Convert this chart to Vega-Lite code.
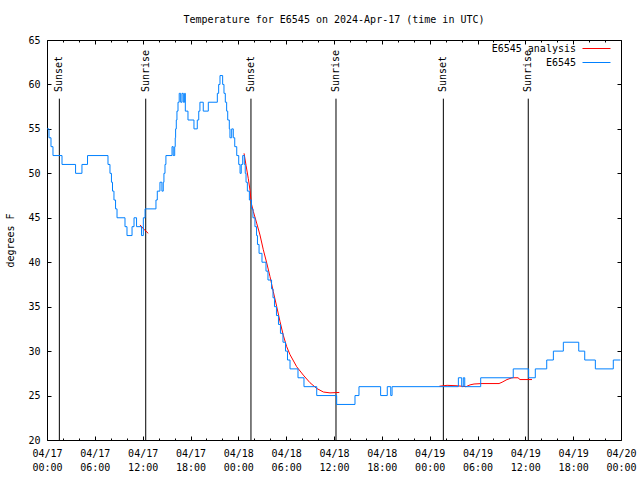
{
  "$schema": "https://vega.github.io/schema/vega-lite/v6.json",
  "width": 574,
  "height": 400,
  "autosize": {"type": "none"},
  "padding": {"left": 47, "top": 40, "right": 19, "bottom": 40},
  "background": "white",
  "title": {"text": "Temperature for E6545 on 2024-Apr-17 (time in UTC)", "font": "DejaVu Sans Mono", "fontSize": 10, "fontWeight": "normal", "anchor": "middle", "color": "black", "offset": 10},
  "config": {
    "view": {"stroke": null},
    "axis": {"labelFont": "DejaVu Sans Mono", "labelFontSize": 10, "labelColor": "black", "titleFont": "DejaVu Sans Mono", "titleFontSize": 10, "titleFontWeight": "normal", "titleColor": "black", "domainColor": "black", "tickColor": "black", "grid": false, "domainWidth": 1, "tickWidth": 1},
    "legend": {"labelFont": "DejaVu Sans Mono", "labelFontSize": 10, "labelColor": "black"}
  },
  "datasets": {
    "obs": [
      {"t": "2024-04-17T00:00:00Z", "temp": 55}, {"t": "2024-04-17T00:15:00Z", "temp": 54}, {"t": "2024-04-17T00:30:00Z", "temp": 53}, {"t": "2024-04-17T00:45:00Z", "temp": 52},
      {"t": "2024-04-17T01:53:00Z", "temp": 51}, {"t": "2024-04-17T03:35:00Z", "temp": 50}, {"t": "2024-04-17T04:23:00Z", "temp": 51}, {"t": "2024-04-17T05:05:00Z", "temp": 52},
      {"t": "2024-04-17T07:39:00Z", "temp": 51}, {"t": "2024-04-17T07:54:00Z", "temp": 50}, {"t": "2024-04-17T08:05:00Z", "temp": 49}, {"t": "2024-04-17T08:13:00Z", "temp": 48},
      {"t": "2024-04-17T08:24:00Z", "temp": 47}, {"t": "2024-04-17T08:36:00Z", "temp": 46}, {"t": "2024-04-17T08:47:00Z", "temp": 45}, {"t": "2024-04-17T09:47:00Z", "temp": 44},
      {"t": "2024-04-17T10:02:00Z", "temp": 43}, {"t": "2024-04-17T10:40:00Z", "temp": 44}, {"t": "2024-04-17T10:55:00Z", "temp": 45}, {"t": "2024-04-17T11:14:00Z", "temp": 44},
      {"t": "2024-04-17T11:51:00Z", "temp": 43}, {"t": "2024-04-17T12:05:00Z", "temp": 45}, {"t": "2024-04-17T12:18:00Z", "temp": 46}, {"t": "2024-04-17T13:40:00Z", "temp": 47},
      {"t": "2024-04-17T13:50:00Z", "temp": 48}, {"t": "2024-04-17T14:10:00Z", "temp": 49}, {"t": "2024-04-17T14:25:00Z", "temp": 48}, {"t": "2024-04-17T14:35:00Z", "temp": 49},
      {"t": "2024-04-17T14:40:00Z", "temp": 50}, {"t": "2024-04-17T14:48:00Z", "temp": 51}, {"t": "2024-04-17T14:55:00Z", "temp": 52}, {"t": "2024-04-17T15:41:00Z", "temp": 53},
      {"t": "2024-04-17T15:50:00Z", "temp": 52}, {"t": "2024-04-17T16:01:00Z", "temp": 53}, {"t": "2024-04-17T16:05:00Z", "temp": 54}, {"t": "2024-04-17T16:08:00Z", "temp": 55},
      {"t": "2024-04-17T16:13:00Z", "temp": 56}, {"t": "2024-04-17T16:18:00Z", "temp": 57}, {"t": "2024-04-17T16:26:00Z", "temp": 58}, {"t": "2024-04-17T16:35:00Z", "temp": 59},
      {"t": "2024-04-17T16:46:00Z", "temp": 58}, {"t": "2024-04-17T16:56:00Z", "temp": 59}, {"t": "2024-04-17T17:06:00Z", "temp": 58}, {"t": "2024-04-17T17:16:00Z", "temp": 59},
      {"t": "2024-04-17T17:21:00Z", "temp": 57}, {"t": "2024-04-17T17:41:00Z", "temp": 56}, {"t": "2024-04-17T18:26:00Z", "temp": 55}, {"t": "2024-04-17T18:51:00Z", "temp": 56},
      {"t": "2024-04-17T19:02:00Z", "temp": 57}, {"t": "2024-04-17T19:11:00Z", "temp": 58}, {"t": "2024-04-17T19:36:00Z", "temp": 57}, {"t": "2024-04-17T20:14:00Z", "temp": 58},
      {"t": "2024-04-17T21:22:00Z", "temp": 59}, {"t": "2024-04-17T21:32:00Z", "temp": 60}, {"t": "2024-04-17T21:42:00Z", "temp": 61}, {"t": "2024-04-17T22:02:00Z", "temp": 60},
      {"t": "2024-04-17T22:12:00Z", "temp": 59}, {"t": "2024-04-17T22:22:00Z", "temp": 58}, {"t": "2024-04-17T22:32:00Z", "temp": 57}, {"t": "2024-04-17T22:40:00Z", "temp": 56},
      {"t": "2024-04-17T22:52:00Z", "temp": 55}, {"t": "2024-04-17T22:57:00Z", "temp": 54}, {"t": "2024-04-17T23:10:00Z", "temp": 55}, {"t": "2024-04-17T23:22:00Z", "temp": 54},
      {"t": "2024-04-17T23:33:00Z", "temp": 53}, {"t": "2024-04-17T23:48:00Z", "temp": 52}, {"t": "2024-04-18T00:03:00Z", "temp": 51}, {"t": "2024-04-18T00:13:00Z", "temp": 50},
      {"t": "2024-04-18T00:22:00Z", "temp": 51}, {"t": "2024-04-18T00:33:00Z", "temp": 52}, {"t": "2024-04-18T00:45:00Z", "temp": 51}, {"t": "2024-04-18T00:52:00Z", "temp": 50},
      {"t": "2024-04-18T00:58:00Z", "temp": 49}, {"t": "2024-04-18T01:08:00Z", "temp": 48}, {"t": "2024-04-18T01:23:00Z", "temp": 47}, {"t": "2024-04-18T01:39:00Z", "temp": 46},
      {"t": "2024-04-18T01:50:00Z", "temp": 45}, {"t": "2024-04-18T02:05:00Z", "temp": 44}, {"t": "2024-04-18T02:17:00Z", "temp": 43}, {"t": "2024-04-18T02:24:00Z", "temp": 42},
      {"t": "2024-04-18T02:36:00Z", "temp": 41}, {"t": "2024-04-18T02:58:00Z", "temp": 40}, {"t": "2024-04-18T03:28:00Z", "temp": 39}, {"t": "2024-04-18T03:43:00Z", "temp": 38},
      {"t": "2024-04-18T04:10:00Z", "temp": 37}, {"t": "2024-04-18T04:21:00Z", "temp": 36}, {"t": "2024-04-18T04:32:00Z", "temp": 35}, {"t": "2024-04-18T04:47:00Z", "temp": 34},
      {"t": "2024-04-18T05:02:00Z", "temp": 33}, {"t": "2024-04-18T05:17:00Z", "temp": 32}, {"t": "2024-04-18T05:36:00Z", "temp": 31}, {"t": "2024-04-18T05:55:00Z", "temp": 30},
      {"t": "2024-04-18T06:10:00Z", "temp": 29}, {"t": "2024-04-18T06:29:00Z", "temp": 28}, {"t": "2024-04-18T07:29:00Z", "temp": 27}, {"t": "2024-04-18T08:14:00Z", "temp": 26},
      {"t": "2024-04-18T09:50:00Z", "temp": 25}, {"t": "2024-04-18T12:20:00Z", "temp": 24}, {"t": "2024-04-18T14:38:00Z", "temp": 25}, {"t": "2024-04-18T15:08:00Z", "temp": 26},
      {"t": "2024-04-18T17:51:00Z", "temp": 25}, {"t": "2024-04-18T18:41:00Z", "temp": 26}, {"t": "2024-04-18T19:07:00Z", "temp": 25}, {"t": "2024-04-18T19:17:00Z", "temp": 26},
      {"t": "2024-04-19T03:36:00Z", "temp": 27}, {"t": "2024-04-19T04:01:00Z", "temp": 26}, {"t": "2024-04-19T04:13:00Z", "temp": 27}, {"t": "2024-04-19T04:24:00Z", "temp": 26},
      {"t": "2024-04-19T06:24:00Z", "temp": 27}, {"t": "2024-04-19T10:29:00Z", "temp": 28}, {"t": "2024-04-19T12:25:00Z", "temp": 27}, {"t": "2024-04-19T13:15:00Z", "temp": 28},
      {"t": "2024-04-19T14:41:00Z", "temp": 29}, {"t": "2024-04-19T15:31:00Z", "temp": 30}, {"t": "2024-04-19T16:46:00Z", "temp": 31}, {"t": "2024-04-19T18:42:00Z", "temp": 30},
      {"t": "2024-04-19T19:27:00Z", "temp": 29}, {"t": "2024-04-19T20:47:00Z", "temp": 28}, {"t": "2024-04-19T23:02:00Z", "temp": 29}, {"t": "2024-04-19T23:55:00Z", "temp": 29}
    ],
    "ana": [
      {"t": "2024-04-17T11:40:00Z", "temp": 44.2, "seg": "a"}, {"t": "2024-04-17T12:10:00Z", "temp": 43.7, "seg": "a"}, {"t": "2024-04-17T12:42:00Z", "temp": 43.25, "seg": "a"},
      {"t": "2024-04-18T00:43:00Z", "temp": 52.25, "seg": "b"}, {"t": "2024-04-18T00:58:00Z", "temp": 50.9, "seg": "b"}, {"t": "2024-04-18T01:15:00Z", "temp": 49.4, "seg": "b"},
      {"t": "2024-04-18T01:28:00Z", "temp": 48.1, "seg": "b"}, {"t": "2024-04-18T01:38:00Z", "temp": 46.6, "seg": "b"}, {"t": "2024-04-18T01:53:00Z", "temp": 45.7, "seg": "b"},
      {"t": "2024-04-18T02:18:00Z", "temp": 44.4, "seg": "b"}, {"t": "2024-04-18T02:43:00Z", "temp": 43.06, "seg": "b"}, {"t": "2024-04-18T03:08:00Z", "temp": 41.4, "seg": "b"},
      {"t": "2024-04-18T03:34:00Z", "temp": 39.9, "seg": "b"}, {"t": "2024-04-18T03:58:00Z", "temp": 38.4, "seg": "b"}, {"t": "2024-04-18T04:23:00Z", "temp": 36.7, "seg": "b"},
      {"t": "2024-04-18T04:49:00Z", "temp": 35.0, "seg": "b"}, {"t": "2024-04-18T05:14:00Z", "temp": 33.3, "seg": "b"}, {"t": "2024-04-18T05:38:00Z", "temp": 31.8, "seg": "b"},
      {"t": "2024-04-18T06:04:00Z", "temp": 30.5, "seg": "b"}, {"t": "2024-04-18T06:29:00Z", "temp": 29.6, "seg": "b"}, {"t": "2024-04-18T07:19:00Z", "temp": 28.25, "seg": "b"},
      {"t": "2024-04-18T08:09:00Z", "temp": 27.3, "seg": "b"}, {"t": "2024-04-18T08:59:00Z", "temp": 26.45, "seg": "b"}, {"t": "2024-04-18T09:50:00Z", "temp": 25.8, "seg": "b"},
      {"t": "2024-04-18T10:40:00Z", "temp": 25.4, "seg": "b"}, {"t": "2024-04-18T11:30:00Z", "temp": 25.3, "seg": "b"}, {"t": "2024-04-18T12:40:00Z", "temp": 25.35, "seg": "b"},
      {"t": "2024-04-19T01:13:00Z", "temp": 26.05, "seg": "c"}, {"t": "2024-04-19T02:11:00Z", "temp": 26.15, "seg": "c"}, {"t": "2024-04-19T03:26:00Z", "temp": 26.1, "seg": "c"},
      {"t": "2024-04-19T04:34:00Z", "temp": 26.0, "seg": "c"}, {"t": "2024-04-19T05:04:00Z", "temp": 26.2, "seg": "c"}, {"t": "2024-04-19T05:34:00Z", "temp": 26.3, "seg": "c"},
      {"t": "2024-04-19T06:34:00Z", "temp": 26.35, "seg": "c"}, {"t": "2024-04-19T08:42:00Z", "temp": 26.35, "seg": "c"}, {"t": "2024-04-19T09:05:00Z", "temp": 26.5, "seg": "c"},
      {"t": "2024-04-19T09:42:00Z", "temp": 26.8, "seg": "c"}, {"t": "2024-04-19T10:20:00Z", "temp": 27.0, "seg": "c"}, {"t": "2024-04-19T11:05:00Z", "temp": 27.0, "seg": "c"},
      {"t": "2024-04-19T11:20:00Z", "temp": 26.8, "seg": "c"}, {"t": "2024-04-19T12:50:00Z", "temp": 26.8, "seg": "c"}
    ],
    "sun": [
      {"t": "2024-04-17T01:33:00Z", "label": "Sunset"}, {"t": "2024-04-17T12:23:00Z", "label": "Sunrise"},
      {"t": "2024-04-18T01:35:00Z", "label": "Sunset"}, {"t": "2024-04-18T12:15:00Z", "label": "Sunrise"},
      {"t": "2024-04-19T01:43:00Z", "label": "Sunset"}, {"t": "2024-04-19T12:22:00Z", "label": "Sunrise"}
    ]
  },
  "layer": [
    {
      "data": {"name": "sun"},
      "mark": {"type": "rule", "color": "black", "strokeWidth": 1},
      "encoding": {
        "x": {"field": "t", "type": "temporal", "scale": {"type": "utc", "domain": [1713312000000, 1713571200000], "nice": false},
              "axis": {"orient": "top", "title": null, "labels": false, "values": [1713312000000, 1713333600000, 1713355200000, 1713376800000, 1713398400000, 1713420000000, 1713441600000, 1713463200000, 1713484800000, 1713506400000, 1713528000000, 1713549600000, 1713571200000], "tickSize": -4}},
        "y": {"datum": 58.4, "type": "quantitative",
              "axis": {"orient": "right", "title": null, "labels": false, "values": [20, 25, 30, 35, 40, 45, 50, 55, 60, 65], "tickSize": -4}},
        "y2": {"datum": 20}
      }
    },
    {
      "data": {"name": "sun"},
      "mark": {"type": "text", "angle": 270, "align": "left", "baseline": "middle", "font": "DejaVu Sans Mono", "fontSize": 10, "color": "black"},
      "encoding": {
        "x": {"field": "t", "type": "temporal",
              "axis": {"orient": "top", "title": null, "labels": false, "domain": false, "values": [1713319200000, 1713326400000, 1713340800000, 1713348000000, 1713362400000, 1713369600000, 1713384000000, 1713391200000, 1713405600000, 1713412800000, 1713427200000, 1713434400000, 1713448800000, 1713456000000, 1713470400000, 1713477600000, 1713492000000, 1713499200000, 1713513600000, 1713520800000, 1713535200000, 1713542400000, 1713556800000, 1713564000000], "tickSize": -2}},
        "y": {"datum": 59.15, "type": "quantitative", "axis": null},
        "text": {"field": "label"}
      }
    },
    {
      "data": {"name": "ana"},
      "mark": {"type": "line", "strokeWidth": 1},
      "encoding": {
        "x": {"field": "t", "type": "temporal",
              "axis": {"orient": "bottom", "title": null, "labels": false, "domain": false, "values": [1713319200000, 1713326400000, 1713340800000, 1713348000000, 1713362400000, 1713369600000, 1713384000000, 1713391200000, 1713405600000, 1713412800000, 1713427200000, 1713434400000, 1713448800000, 1713456000000, 1713470400000, 1713477600000, 1713492000000, 1713499200000, 1713513600000, 1713520800000, 1713535200000, 1713542400000, 1713556800000, 1713564000000], "tickSize": -2}},
        "y": {"field": "temp", "type": "quantitative", "axis": null},
        "color": {"datum": "E6545 analysis", "type": "nominal"},
        "detail": {"field": "seg"}
      }
    },
    {
      "data": {"name": "obs"},
      "mark": {"type": "line", "strokeWidth": 1, "interpolate": "step-after"},
      "encoding": {
        "x": {"field": "t", "type": "temporal", "axis": {"orient": "bottom", "title": null, "values": [1713312000000, 1713333600000, 1713355200000, 1713376800000, 1713398400000, 1713420000000, 1713441600000, 1713463200000, 1713484800000, 1713506400000, 1713528000000, 1713549600000, 1713571200000], "tickSize": -4, "labelPadding": 12, "labelFlush": false, "labelOverlap": false, "labelLineHeight": 14,
              "labelExpr": "[utcFormat(datum.value, '%m/%d'), utcFormat(datum.value, '%H:%M')]"}},
        "y": {"field": "temp", "type": "quantitative", "scale": {"domain": [20, 65], "nice": false, "zero": false},
              "axis": {"orient": "left", "title": "degrees F", "values": [20, 25, 30, 35, 40, 45, 50, 55, 60, 65], "tickSize": -4, "labelPadding": 11, "titlePadding": 12}},
        "color": {"datum": "E6545", "type": "nominal",
                  "scale": {"domain": ["E6545 analysis", "E6545"], "range": ["#ff0000", "#0080ff"]},
                  "legend": {"orient": "none", "legendX": 544, "legendY": 3, "title": null, "symbolType": "M-3,0H3", "symbolSize": 87, "symbolStrokeWidth": 1, "labelAlign": "right", "labelOffset": -26, "padding": 0, "rowPadding": 3,
                             "encode": {"symbols": {"update": {"stroke": {"scale": "color", "field": "value"}, "strokeWidth": {"value": 1}, "opacity": {"value": 1}, "fill": {"value": "transparent"}}}}}}
      }
    }
  ],
  "resolve": {"axis": {"x": "independent", "y": "independent"}}
}
